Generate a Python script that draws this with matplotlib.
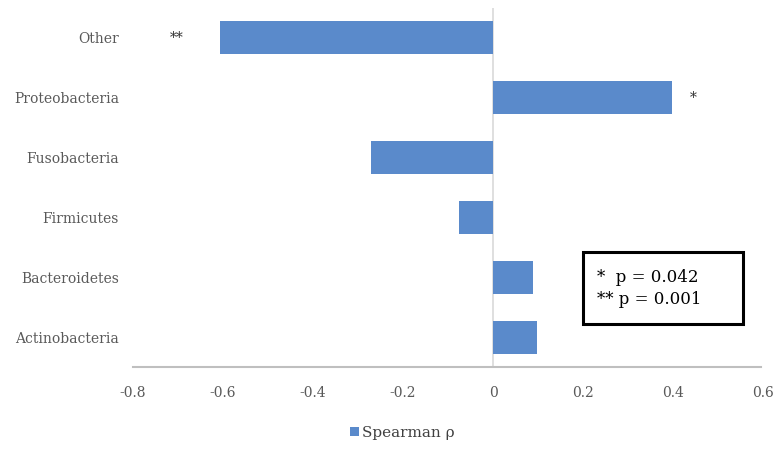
import numpy as np
import matplotlib.pyplot as plt
from matplotlib.patches import Rectangle

# phylum-level correlation with outcome (Spearman rho)
phyla = ["Actinobacteria", "Bacteroidetes", "Firmicutes",
         "Fusobacteria", "Proteobacteria", "Other"]
rho = [0.098, 0.089, -0.076, -0.272, 0.398, -0.607]
stars = ["", "", "", "", "*", "**"]
note_lines = ["*  p = 0.042", "** p = 0.001"]

bar_col = "#5A8ACB"
grey = "#595959"
plt.rcParams["font.family"] = ["DejaVu Serif"]

fig = plt.figure(figsize=(7.77, 4.49), dpi=100)
ax = fig.add_axes([0.1712, 0.1826, 0.8108, 0.7996])

y = np.arange(len(phyla))
ax.barh(y, rho, height=0.55, color=bar_col, zorder=3, label="Spearman ρ")
ax.axvline(0, color="#d9d9d9", lw=1.2, zorder=2)

for yi, r, s in zip(y, rho, stars):
    if not s:
        continue
    if r < 0:
        ax.text(r - 0.08, yi, s, ha="right", va="center", fontsize=10, color="#333333")
    else:
        ax.text(r + 0.04, yi, s, ha="left", va="center", fontsize=10, color="#333333")

ax.set_xlim(-0.8, 0.6)
ax.set_ylim(-0.5, len(phyla) - 0.5)
ax.set_xticks(np.arange(-0.8, 0.61, 0.2))
ax.set_xticklabels(["-0.8", "-0.6", "-0.4", "-0.2", "0", "0.2", "0.4", "0.6"])
ax.set_yticks(y)
ax.set_yticklabels(phyla)
ax.tick_params(axis="both", length=0, colors=grey, labelsize=10)
ax.tick_params(axis="x", pad=14)
ax.tick_params(axis="y", pad=10)

for side in ["top", "right", "left"]:
    ax.spines[side].set_visible(False)
ax.spines["bottom"].set_color("#bfbfbf")
ax.spines["bottom"].set_linewidth(1.5)
ax.spines["bottom"].set_bounds(-0.8, 0.595)

# p-value note box
box = Rectangle((0.7503, 0.2784), 0.2059, 0.1604, transform=fig.transFigure,
                fill=False, edgecolor="black", lw=2.2)
fig.patches.append(box)
fig.text(0.768, 0.383, note_lines[0], fontsize=12, color="black", va="center")
fig.text(0.768, 0.332, note_lines[1], fontsize=12, color="black", va="center")

fig.legend(loc="center", bbox_to_anchor=(0.518, 0.036), frameon=False,
           handlelength=0.6, handleheight=0.6, handletextpad=0.2,
           prop={"size": 11}, labelcolor="#404040")

fig.savefig("out.png", dpi=100)
